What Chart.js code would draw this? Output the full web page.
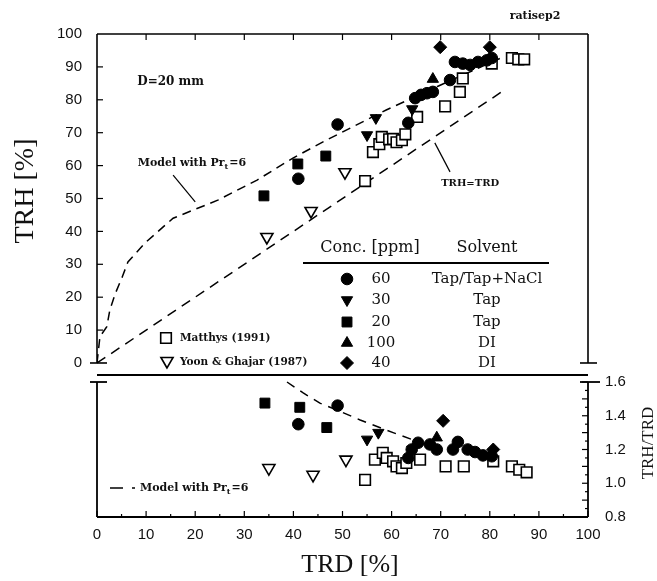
<!DOCTYPE html>
<html>
<head>
<meta charset="utf-8">
<script src="https://cdn.jsdelivr.net/npm/chart.js@4.4.1/dist/chart.umd.min.js"></script>
<style>
  html, body { margin: 0; padding: 0; background: #fff; }
  #wrap { position: relative; width: 657px; height: 581px; }
  #topChart { position: absolute; left: 0; top: 0; }
  #botChart { position: absolute; left: 0; top: 370px; }
</style>
</head>
<body>
<div id="wrap">
  <canvas id="topChart" width="657" height="380"></canvas>
  <canvas id="botChart" width="657" height="211"></canvas>
</div>
<script>
// ---- data: [TRD %, TRH %] (top) and [TRD %, TRH/TRD] (bottom)
const xTicks = [0, 10, 20, 30, 40, 50, 60, 70, 80, 90, 100];
const trhTicks = [0, 10, 20, 30, 40, 50, 60, 70, 80, 90, 100];
const ratioTicks = [0.8, 0.9, 1.0, 1.1, 1.2, 1.3, 1.4, 1.5, 1.6];

const top60 = [[41,56],[49,72.5],[63.4,73],[64.8,80.5],[66,81.5],[67.2,82],[68.4,82.4],[71.9,86],[72.9,91.5],[74.5,91],[76,90.6],[77.6,91.5],[79.4,92],[80.4,92.7]];
const top30 = [[55,69.3],[56.8,74.5],[64.2,77.2]];
const top20 = [[34,50.8],[40.9,60.5],[46.6,62.9]];
const top100 = [[68.4,86.3]];
const top40 = [[69.9,96],[80,96]];
const topMatthys = [[54.6,55.3],[56.2,64.1],[57.5,66.5],[58,68.7],[59.5,68],[60.3,68.1],[61,67.1],[62.1,67.7],[62.8,69.5],[65.2,74.8],[70.9,78],[73.9,82.4],[74.5,86.5],[80.4,91],[84.5,92.7],[85.8,92.3],[87,92.3]];
const topYoon = [[34.6,38.3],[43.6,46.2],[50.5,58]];
const modelTop = [[0,0],[0.6,8],[2,11],[2.6,16],[3.7,21],[5.1,26],[6.3,30.7],[9.8,36.5],[13.2,41],[15.5,44],[24.6,49.5],[32.6,55.6],[39.9,62.3],[46.8,67.8],[58.9,76.9],[70,84.5],[82.7,93]];
const diagLine = [[0,0],[83,83]];
const leaderModel = [[15.5,57.1],[20,49]];
const leaderDiag = [[68.8,66.9],[71.9,58.1]];

const bot60 = [[41,1.35],[49,1.46],[63.4,1.15],[64.1,1.2],[65.4,1.24],[67.8,1.23],[69.2,1.2],[72.5,1.2],[73.5,1.245],[75.5,1.2],[77,1.185],[78.6,1.165],[80.4,1.16]];
const bot30 = [[55,1.26],[57.3,1.30],[64.2,1.2]];
const bot20 = [[34.2,1.475],[41.3,1.45],[46.8,1.33]];
const bot100 = [[69.2,1.27]];
const bot40 = [[70.5,1.37],[80.7,1.2]];
const botMatthys = [[54.6,1.02],[56.6,1.14],[58.2,1.18],[59,1.15],[60.3,1.13],[61,1.1],[62.1,1.09],[63,1.12],[65.8,1.14],[71,1.1],[74.7,1.1],[80.7,1.13],[84.5,1.1],[86,1.08],[87.5,1.065]];
const botYoon = [[35,1.09],[44,1.05],[50.7,1.14]];
const modelBot = [[38.7,1.6],[42,1.535],[45.4,1.475],[50,1.42],[53.6,1.375],[60.3,1.30],[66,1.24],[71,1.2]];

const concLabels = ['60', '30', '20', '100', '40'];
const solventLabels = ['Tap/Tap+NaCl', 'Tap', 'Tap', 'DI', 'DI'];

// ---- marker styles
const INK = '#111';
const styles = {
  c60:  { pointStyle: 'circle',   rotation: 0,   radius: 5.8, fill: '#000' },
  c30:  { pointStyle: 'triangle', rotation: 180, radius: 6.5, fill: '#000' },
  c20:  { pointStyle: 'rect',     rotation: 0,   radius: 7,   fill: '#000' },
  c100: { pointStyle: 'triangle', rotation: 0,   radius: 6.5, fill: '#000' },
  c40:  { pointStyle: 'rectRot',  rotation: 0,   radius: 6.5, fill: '#000' },
  mat:  { pointStyle: 'rect',     rotation: 0,   radius: 7.5, fill: '#fff' },
  yoon: { pointStyle: 'triangle', rotation: 180, radius: 7,   fill: '#fff' }
};

function pts(arr) { return arr.map(p => ({ x: p[0], y: p[1] })); }

function markerSet(arr, st) {
  return {
    data: pts(arr), showLine: false,
    pointStyle: st.pointStyle, pointRotation: st.rotation, pointRadius: st.radius,
    pointBackgroundColor: st.fill, pointBorderColor: '#000',
    pointBorderWidth: st.fill === '#fff' ? 1.6 : 1
  };
}

function lineSet(arr, dash, width) {
  return {
    data: pts(arr), showLine: true, pointRadius: 0, fill: false,
    borderColor: '#000', borderWidth: width, borderDash: dash
  };
}

function seg(ctx, x1, y1, x2, y2) {
  ctx.beginPath(); ctx.moveTo(x1, y1); ctx.lineTo(x2, y2); ctx.stroke();
}

function symbol(ctx, st, x, y) {
  ctx.save();
  ctx.fillStyle = st.fill; ctx.strokeStyle = '#000';
  ctx.lineWidth = st.fill === '#fff' ? 1.6 : 1;
  Chart.helpers.drawPoint(ctx, { pointStyle: st.pointStyle, rotation: st.rotation, radius: st.radius, borderWidth: 1 }, x, y);
  ctx.restore();
}

function prLabel(ctx, x, y) {
  ctx.textAlign = 'left';
  ctx.font = 'bold 11px "DejaVu Serif"';
  const a = 'Model with Pr';
  ctx.fillText(a, x, y);
  let w = ctx.measureText(a).width;
  ctx.font = 'bold 8px "DejaVu Serif"';
  ctx.fillText('t', x + w, y + 4);
  w += ctx.measureText('t').width + 1;
  ctx.font = 'bold 11px "DejaVu Serif"';
  ctx.fillText('=6', x + w, y);
}

// the tick padding would otherwise be added above/below the plot area
function noPad(s) { s.paddingTop = 0; s.paddingBottom = 0; s.paddingLeft = 0; s.paddingRight = 0; }

const topDecor = {
  id: 'topDecor',
  afterDraw(chart) {
    const { ctx, chartArea: a, scales: { x, y } } = chart;
    ctx.save();
    ctx.strokeStyle = '#000'; ctx.lineWidth = 1.6;
    const y0 = y.getPixelForValue(0);
    seg(ctx, a.left, a.top, a.right, a.top);
    seg(ctx, a.left, a.top, a.left, y0);
    seg(ctx, a.right, a.top, a.right, y0);
    seg(ctx, a.left - 7, y0, a.left + 10, y0);
    seg(ctx, a.right - 8, y0, a.right + 9, y0);
    ctx.lineWidth = 1.2;
    trhTicks.forEach(v => {
      if (v > 0 && v < 100) { const py = y.getPixelForValue(v); seg(ctx, a.left, py, a.left + 6, py); }
    });
    xTicks.forEach(v => {
      if (v > 0 && v < 100) { const px = x.getPixelForValue(v); seg(ctx, px, a.top, px, a.top + 6); }
    });

    ctx.fillStyle = INK;
    ctx.textBaseline = 'middle';
    // axis title
    ctx.save();
    ctx.translate(26, 191); ctx.rotate(-Math.PI / 2);
    ctx.textAlign = 'center';
    ctx.font = '28px "Liberation Serif"';
    ctx.fillText('TRH [%]', 0, 0);
    ctx.restore();

    // small annotations
    ctx.textAlign = 'left';
    ctx.font = 'bold 12px "DejaVu Serif"';
    ctx.fillText('D=20 mm', x.getPixelForValue(8.2), y.getPixelForValue(85.4));
    prLabel(ctx, x.getPixelForValue(8.3), y.getPixelForValue(60.8));
    ctx.textAlign = 'center';
    ctx.font = 'bold 10px "DejaVu Serif"';
    ctx.fillText('TRH=TRD', x.getPixelForValue(76), y.getPixelForValue(54.7));
    ctx.font = 'bold 11px "DejaVu Serif"';
    ctx.fillText('ratisep2', 535, 16);

    // reference legend, lower left
    symbol(ctx, styles.mat, 166, 338);
    symbol(ctx, styles.yoon, 167, 361);
    ctx.fillStyle = INK;
    ctx.textAlign = 'left';
    ctx.font = 'bold 10.5px "DejaVu Serif"';
    ctx.fillText('Matthys (1991)', 180, 338);
    ctx.fillText('Yoon & Ghajar (1987)', 180, 362);

    // concentration table
    ctx.font = '16px "DejaVu Serif"';
    ctx.textAlign = 'center';
    ctx.fillText('Conc. [ppm]', 370, 248);
    ctx.fillText('Solvent', 487, 248);
    ctx.lineWidth = 2;
    seg(ctx, 303, 263, 549, 263);
    const rowY = [279, 300, 322, 343, 363];
    const rowSt = [styles.c60, styles.c30, styles.c20, styles.c100, styles.c40];
    ctx.font = '15px "DejaVu Serif"';
    rowY.forEach((ry, i) => {
      symbol(ctx, rowSt[i], 347, ry);
      ctx.fillStyle = INK;
      ctx.fillText(concLabels[i], 381, ry);
      ctx.fillText(solventLabels[i], 487, ry);
    });
    ctx.restore();
  }
};

const botDecor = {
  id: 'botDecor',
  afterDraw(chart) {
    const { ctx, chartArea: a, scales: { x, y } } = chart;
    ctx.save();
    ctx.strokeStyle = '#000'; ctx.lineWidth = 1.8;
    const yTop = y.getPixelForValue(1.6);
    seg(ctx, a.left, a.top, a.right, a.top);
    seg(ctx, a.left, yTop, a.left, a.bottom);
    seg(ctx, a.left - 7, yTop, a.left + 10, yTop);
    seg(ctx, a.left, a.bottom, a.right, a.bottom);
    seg(ctx, a.right, yTop, a.right, a.bottom);
    seg(ctx, a.right - 8, yTop, a.right + 12, yTop);
    ctx.lineWidth = 1.2;
    xTicks.forEach(v => {
      const px = x.getPixelForValue(v);
      seg(ctx, px, a.bottom, px, a.bottom - 6);
      if (v < 100) { const pm = x.getPixelForValue(v + 5); seg(ctx, pm, a.bottom, pm, a.bottom - 3); }
    });
    ratioTicks.forEach(v => {
      const py = y.getPixelForValue(v);
      seg(ctx, a.right, py, a.right - 6, py);
      if (v < 1.6) { const pm = y.getPixelForValue(v + 0.05); seg(ctx, a.right, pm, a.right - 3, pm); }
    });

    ctx.fillStyle = INK;
    ctx.textBaseline = 'middle';
    ctx.textAlign = 'center';
    ctx.font = '26px "Liberation Serif"';
    ctx.fillText('TRD [%]', 350, 195);

    ctx.save();
    ctx.translate(649, 73); ctx.rotate(-Math.PI / 2);
    ctx.font = '17px "Liberation Serif"';
    ctx.fillText('TRH/TRD', 0, 0);
    ctx.restore();

    // model legend
    ctx.lineWidth = 1.5;
    seg(ctx, 110, 118, 123, 118);
    seg(ctx, 132, 118, 135, 118);
    prLabel(ctx, 140, 118);
    ctx.restore();
  }
};

const common = {
  responsive: false,
  animation: false,
  plugins: { legend: { display: false }, tooltip: { enabled: false } }
};

new Chart(document.getElementById('topChart').getContext('2d'), {
  type: 'scatter',
  data: {
    datasets: [
      markerSet(top60, styles.c60),
      markerSet(top30, styles.c30),
      markerSet(top20, styles.c20),
      markerSet(top100, styles.c100),
      markerSet(top40, styles.c40),
      markerSet(topMatthys, styles.mat),
      markerSet(topYoon, styles.yoon),
      lineSet(modelTop, [9, 6], 1.5),
      lineSet(diagLine, [10, 7], 1.5),
      lineSet(leaderModel, [], 1.2),
      lineSet(leaderDiag, [], 1.2)
    ]
  },
  options: Object.assign({}, common, {
    layout: { autoPadding: false, padding: { left: 0, right: 69, top: 34, bottom: 5 } },
    scales: {
      x: { type: 'linear', min: 0, max: 100, display: false },
      y: {
        type: 'linear', position: 'left', min: -3.65, max: 100,
        afterFit: s => { s.width = 97; noPad(s); },
        afterBuildTicks: s => { s.ticks = trhTicks.map(v => ({ value: v })); },
        grid: { drawOnChartArea: false, drawTicks: false },
        border: { display: false },
        ticks: { padding: 15, color: INK, font: { family: 'Liberation Sans', size: 15 } }
      }
    }
  }),
  plugins: [topDecor]
});

new Chart(document.getElementById('botChart').getContext('2d'), {
  type: 'scatter',
  data: {
    datasets: [
      markerSet(bot60, styles.c60),
      markerSet(bot30, styles.c30),
      markerSet(bot20, styles.c20),
      markerSet(bot100, styles.c100),
      markerSet(bot40, styles.c40),
      markerSet(botMatthys, styles.mat),
      markerSet(botYoon, styles.yoon),
      lineSet(modelBot, [9, 7], 1.5)
    ]
  },
  options: Object.assign({}, common, {
    layout: { autoPadding: false, padding: { left: 97, right: 0, top: 5, bottom: 0 } },
    scales: {
      x: {
        type: 'linear', position: 'bottom', min: 0, max: 100,
        afterFit: s => { s.height = 64; noPad(s); },
        afterBuildTicks: s => { s.ticks = xTicks.map(v => ({ value: v })); },
        grid: { drawOnChartArea: false, drawTicks: false },
        border: { display: false },
        ticks: { padding: 9, color: INK, maxRotation: 0, font: { family: 'Liberation Sans', size: 15 } }
      },
      y: {
        type: 'linear', position: 'right', min: 0.8, max: 1.6415,
        afterFit: s => { s.width = 69; noPad(s); },
        afterBuildTicks: s => { s.ticks = ratioTicks.map(v => ({ value: v })); },
        grid: { drawOnChartArea: false, drawTicks: false },
        border: { display: false },
        ticks: { padding: 17, color: INK, callback: v => v.toFixed(1), font: { family: 'Liberation Sans', size: 15 } }
      }
    }
  }),
  plugins: [botDecor]
});
</script>
</body>
</html>
